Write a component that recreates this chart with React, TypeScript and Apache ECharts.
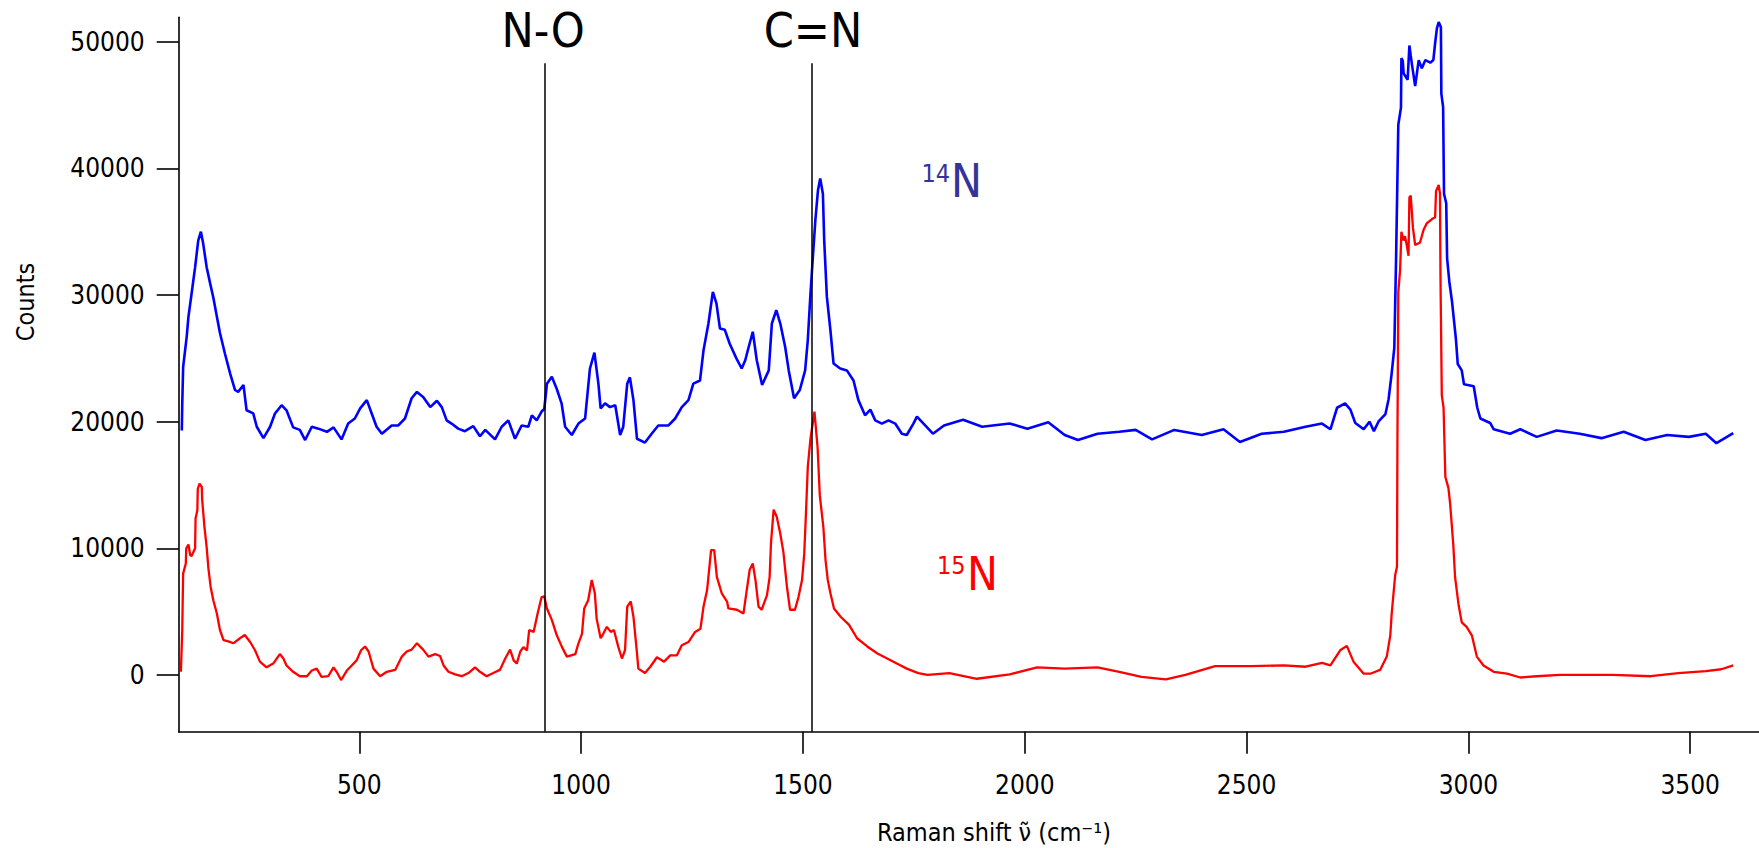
import React, { useEffect, useRef } from "react";
import * as echarts from "echarts";

// Raman shift (cm-1) and counts
const blueShift = [100,101,103,111,115,122,130,137,143,148,156,164,171,179,186,197,209,220,227,239,246,261,269,284,299,310,325,336,351,366,378,393,408,427,442,460,475,490,502,517,528,539,551,573,588,603,618,630,644,660,675,686,697,708,723,738,757,772,784,806,821,836,851,866,881,889,900,911,917,923,934,945,956,964,979,994,1009,1020,1030,1039,1044,1054,1065,1077,1088,1095,1104,1110,1118,1126,1144,1159,1174,1197,1212,1227,1242,1253,1268,1276,1287,1297,1305,1313,1324,1335,1350,1362,1370,1377,1387,1396,1408,1423,1430,1440,1449,1460,1468,1480,1493,1505,1511,1517,1523,1528,1534,1539,1545,1548,1554,1562,1569,1584,1599,1614,1625,1640,1652,1663,1678,1693,1708,1723,1734,1749,1757,1793,1818,1861,1904,1966,2006,2053,2090,2120,2164,2213,2250,2287,2337,2399,2448,2485,2534,2584,2633,2670,2689,2704,2722,2734,2745,2764,2777,2787,2798,2813,2820,2827,2833,2837,2842,2848,2849,2852,2854,2863,2867,2870,2874,2880,2888,2895,2903,2914,2921,2925,2929,2933,2938,2939,2943,2945,2950,2952,2957,2963,2967,2972,2976,2985,2990,3012,3020,3027,3049,3057,3094,3117,3154,3199,3251,3300,3350,3399,3448,3497,3535,3559,3597];
const blueCounts = [19300,21400,24300,26700,28300,30100,32200,34300,35000,34100,32200,30900,29800,28300,27000,25400,23800,22500,22350,22900,20900,20650,19600,18700,19600,20650,21300,20900,19550,19350,18550,19600,19450,19200,19550,18600,19850,20250,21050,21700,20650,19600,19050,19700,19700,20250,21850,22350,21950,21150,21650,21150,20100,19850,19450,19250,19650,18850,19350,18600,19600,20100,18650,19700,19600,20500,20100,20800,21000,23000,23550,22600,21450,19600,18950,19850,20250,24200,25450,23000,21050,21450,21150,21300,18950,19600,23000,23500,21700,18650,18350,19050,19700,19700,20250,21150,21700,23000,23250,25650,27750,30250,29350,27350,27250,26150,25000,24200,24850,25800,27100,24850,22900,24050,27750,28800,27750,25900,24050,21850,22500,24050,26450,30100,33300,35900,38300,39200,38000,34300,29850,27200,24600,24200,24050,23250,21700,20500,20950,20100,19850,20100,19850,19050,18950,19850,20400,19050,19700,20150,19600,19850,19450,19950,18950,18550,19050,19200,19350,18600,19350,18950,19400,18400,19050,19200,19600,19850,19400,21100,21450,20950,19900,19400,20000,19250,20050,20600,21750,23800,25850,32950,43450,44800,48700,48500,47500,47000,49700,48900,47900,46500,48550,47900,48550,48350,48550,49900,51050,51550,51150,45900,44850,38000,37250,32900,31050,29500,28150,26450,24550,24050,22950,22800,21100,20250,19900,19400,19050,19400,18800,19300,19050,18700,19200,18550,18950,18800,19050,18300,19100];

const redShift = [98,101,103,109,110,115,119,122,130,131,135,136,140,145,146,151,156,160,165,171,179,186,194,205,216,231,242,254,265,276,291,306,321,329,336,351,366,382,393,404,415,430,442,449,459,472,483,494,504,513,521,532,547,562,581,596,607,618,630,644,656,671,682,690,701,716,731,746,761,772,787,802,817,829,840,848,855,863,870,878,883,893,902,911,917,923,934,945,957,968,987,994,1002,1007,1016,1024,1031,1035,1044,1050,1058,1067,1074,1084,1092,1099,1104,1112,1118,1126,1129,1144,1156,1171,1187,1201,1216,1227,1242,1257,1269,1276,1284,1293,1300,1306,1317,1329,1332,1351,1366,1374,1380,1387,1393,1400,1407,1419,1425,1428,1434,1441,1449,1456,1464,1471,1482,1490,1498,1503,1507,1511,1517,1526,1533,1538,1546,1551,1556,1562,1570,1585,1604,1622,1645,1668,1690,1715,1734,1760,1781,1830,1892,1966,2028,2090,2164,2213,2263,2318,2362,2429,2510,2584,2633,2670,2689,2711,2726,2741,2764,2779,2801,2816,2824,2827,2835,2839,2840,2842,2846,2849,2854,2857,2861,2865,2867,2870,2875,2880,2891,2899,2906,2918,2925,2927,2933,2936,2937,2940,2944,2948,2955,2959,2966,2970,2978,2985,2996,3008,3019,3034,3057,3087,3117,3154,3206,3263,3325,3411,3473,3535,3570,3597];
const redCounts = [250,3550,8000,8800,10000,10300,9450,9400,10000,12350,13000,14700,15100,14850,13800,11700,10100,8400,6950,5900,4850,3550,2750,2650,2500,2900,3150,2600,1950,1050,600,900,1650,1300,750,250,-100,-100,350,500,-150,-100,600,250,-400,350,750,1150,1950,2250,1850,500,-100,250,400,1450,1850,2000,2500,2000,1450,1650,1500,750,250,50,-100,150,600,250,-100,150,400,1300,2000,1150,900,1850,2200,1950,3550,3400,4850,6150,6200,5250,4350,3150,2200,1450,1650,2500,3250,5250,5900,7500,6450,4450,2900,3250,3800,3400,3550,2200,1300,1950,5400,5800,4600,1700,500,150,650,1400,1050,1550,1550,2350,2600,3400,3650,5400,6700,9850,9850,7750,6450,5800,5250,5150,4850,6850,8300,8800,7500,5400,5150,6300,7750,10400,13050,12500,11150,9700,6950,5150,5150,6150,7500,9600,12900,16450,18650,20800,18000,14200,11700,9050,7500,6450,5250,4600,3950,2900,2250,1700,1300,850,500,150,0,150,-300,50,600,500,600,250,-150,-350,0,700,700,750,650,950,750,1950,2300,1050,100,100,400,1450,3150,4800,7900,8550,18400,30250,31950,35000,34300,34650,33950,33100,37700,37850,35300,33950,34150,35150,35650,36000,36150,38200,38700,38000,31600,22100,21100,15650,14750,13450,10250,7700,5500,4150,3800,3100,1450,750,250,100,-200,-100,0,0,0,-100,150,300,450,750];

const xTicks = [500, 1000, 1500, 2000, 2500, 3000, 3500];
const yTicks = [0, 10000, 20000, 30000, 40000, 50000];
const bandLines = [918, 1521];
const bandNames = ["N-O", "C=N"];

const FONT = "'DejaVu Sans Condensed', 'DejaVu Sans', sans-serif";

function pairs(xs: number[], ys: number[]) {
  return xs.map((x, i) => [x, ys[i]]);
}

function txt(text: string, x: number, y: number, size: number, color: string, align = "center", rotation = 0) {
  return {
    type: "text",
    x,
    y,
    rotation,
    silent: true,
    style: {
      text,
      fill: color,
      fontSize: size,
      fontFamily: FONT,
      align,
      textAlign: align,
      verticalAlign: "middle",
      textVerticalAlign: "middle",
    },
  };
}

export default function App() {
  const ref = useRef<HTMLDivElement>(null);
  useEffect(() => {
    if (!ref.current) return;
    const chart = echarts.init(ref.current, undefined, { renderer: "svg" });
    const axisCommon = {
      type: "value",
      splitLine: { show: false },
      axisLine: { show: true, onZero: false, lineStyle: { color: "#000", width: 1.6 } },
      axisTick: { show: true, length: 22, lineStyle: { color: "#000", width: 1.6 } },
    };
    chart.setOption({
      animation: false,
      backgroundColor: "#fff",
      grid: { left: 178.7, right: 0, top: 17.3, bottom: 116.3, outerBoundsMode: "none", containLabel: false },
      xAxis: {
        ...axisCommon,
        min: 93,
        max: 3655,
        axisTick: { ...axisCommon.axisTick, customValues: xTicks },
        axisLabel: {
          customValues: xTicks,
          formatter: (v: number) => String(v),
          margin: 40,
          color: "#000",
          fontSize: 26,
          fontFamily: FONT,
        },
      },
      yAxis: {
        ...axisCommon,
        min: -4480,
        max: 51930,
        axisTick: { ...axisCommon.axisTick, customValues: yTicks },
        axisLabel: {
          customValues: yTicks,
          formatter: (v: number) => String(v),
          margin: 34,
          color: "#000",
          fontSize: 26,
          fontFamily: FONT,
        },
      },
      series: [
        {
          name: "14N",
          type: "line",
          data: pairs(blueShift, blueCounts),
          showSymbol: false,
          symbol: "none",
          lineStyle: { color: "#0000ff", width: 2.6 },
          itemStyle: { color: "#0000ff" },
          z: 2,
        },
        {
          name: "15N",
          type: "line",
          data: pairs(redShift, redCounts),
          showSymbol: false,
          symbol: "none",
          lineStyle: { color: "#ff0000", width: 2.3 },
          itemStyle: { color: "#ff0000" },
          z: 3,
          markLine: {
            silent: true,
            symbol: ["none", "none"],
            label: { show: false },
            lineStyle: { color: "#000", width: 1.5, type: "solid" },
            data: bandLines.map((b) => [{ coord: [b, 48300] }, { coord: [b, -4480] }]),
          },
        },
      ],
      graphic: [
        txt(bandNames[0], 543, 29.5, 48, "#000"),
        txt(bandNames[1], 813, 29.5, 48, "#000"),
        txt("14", 921.5, 173, 25, "#333399", "left"),
        txt("N", 951, 181, 46, "#333399", "left"),
        txt("15", 937, 565, 25, "#ff0000", "left"),
        txt("N", 967, 573.5, 46, "#ff0000", "left"),
        txt("Counts", 25, 302, 25, "#000", "center", Math.PI / 2),
        txt("Raman shift \u03BD\u0303 (cm\u207B\u00B9)", 994, 832, 25, "#000"),
      ],
    });
    return () => chart.dispose();
  }, []);
  return <div ref={ref} style={{ position: "fixed", left: 0, top: 0, width: 1759, height: 848 }} />;
}
